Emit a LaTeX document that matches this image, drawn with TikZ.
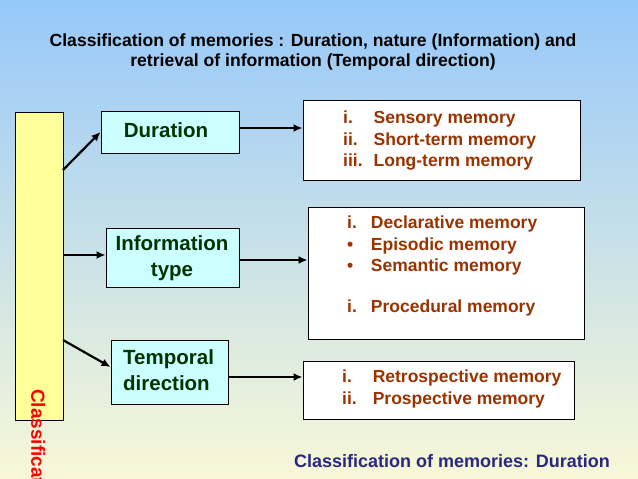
\documentclass[tikz,border=0pt]{standalone}
\usepackage{fontspec}
\setmainfont{Liberation Sans}
\usetikzlibrary{arrows.meta,calc}
\definecolor{bgtop}{RGB}{150,200,250}
\definecolor{bgbot}{RGB}{248,248,215}
\definecolor{barfill}{RGB}{255,255,153}
\definecolor{cyanfill}{RGB}{204,255,255}
\definecolor{greentxt}{RGB}{0,51,0}
\definecolor{browntxt}{RGB}{153,51,0}
\definecolor{navytxt}{RGB}{40,40,130}
\tikzset{
  catbox/.style={draw=black, line width=1pt, fill=cyanfill, inner sep=0pt},
  listbox/.style={draw=black, line width=1pt, fill=white, inner sep=0pt},
  cattext/.style={text=greentxt, font=\fontsize{20.5}{26}\selectfont\bfseries, inner sep=0pt},
  listtext/.style={text=browntxt, font=\fontsize{17.5}{21.7}\selectfont\bfseries, inner sep=0pt, anchor=north west},
  conn/.style={line width=2.2pt, -{Latex[length=9pt,width=8pt]}},
}
\begin{document}
\begin{tikzpicture}[x=1pt,y=-1pt]
\useasboundingbox (0,0) rectangle (638,479);
\clip (0,0) rectangle (638,479);
\shade[top color=bgtop, bottom color=bgbot] (0,0) rectangle (638,479);
% title
\node[font=\fontsize{17.6}{20}\selectfont\bfseries, align=center, inner sep=0pt] (title) at (313,52)
  {Classification of memories : Duration, nature (Information) and\\retrieval of information (Temporal direction)};
% bar
\node[draw=black, line width=1pt, fill=barfill, minimum width=48pt, minimum height=308pt, inner sep=0pt] (bar) at (39,266) {};
\node[rotate=-90, anchor=south west, text=red, font=\fontsize{19}{20}\selectfont\bfseries, inner sep=0pt] (bartext) at (31,389) {Classification};
% category boxes
\node[catbox, minimum width=138pt, minimum height=42pt] (dur) at (170,132) {};
\node[cattext] (durt) at (166,130) {Duration};
\node[catbox, minimum width=133pt, minimum height=59pt] (inf) at (172.5,257.5) {};
\node[cattext, align=center] (inft) at (172,258) {Information\\type};
\node[catbox, minimum width=117pt, minimum height=64pt] (tmp) at (169.5,372) {};
\node[cattext, align=left, anchor=west] (tmpt) at (123,370) {Temporal\\direction};
% list boxes
\node[listbox, minimum width=277pt, minimum height=80pt] (l1) at (441.5,140) {};
\node[listtext] (l1t) at (343,108) {\begin{tabular}{@{}l@{\hspace{11pt}}l@{}}i. & Sensory memory\\ii. & Short-term memory\\iii. & Long-term memory\end{tabular}};
\node[listbox, minimum width=276pt, minimum height=132pt] (l2) at (446,273) {};
\node[listtext] (l2t) at (347,213) {\begin{tabular}{@{}l@{\hspace{14pt}}l@{}}i. & Declarative memory\\\textbullet & Episodic memory\\\textbullet & Semantic memory\\[19pt]i. & Procedural memory\end{tabular}};
\node[listbox, minimum width=271pt, minimum height=58pt] (l3) at (438.5,390) {};
\node[listtext] (l3t) at (342,367) {\begin{tabular}{@{}l@{\hspace{16pt}}l@{}}i. & Retrospective memory\\ii. & Prospective memory\end{tabular}};
% footer
\node[text=navytxt, font=\fontsize{18}{20}\selectfont\bfseries, inner sep=0pt] (foot) at (452,461) {Classification of memories: Duration};
% connectors
\coordinate (b1) at (63,170);
\coordinate (b2) at (63,255);
\coordinate (b3) at (63,340);
\draw[conn] (b1) -- (dur.west);
\draw[conn] (b2) -- (b2 -| inf.west);
\draw[conn] (b3) -- ([yshift=5pt]tmp.west);
\draw[conn] ([yshift=4pt]dur.east) -- ([yshift=4pt]dur.east -| l1.west);
\draw[conn] ([yshift=-2.5pt]inf.east) -- ([yshift=-2.5pt]inf.east -| l2.west);
\draw[conn] ([yshift=-5pt]tmp.east) -- ([yshift=-5pt]tmp.east -| l3.west);
\end{tikzpicture}
\end{document}
